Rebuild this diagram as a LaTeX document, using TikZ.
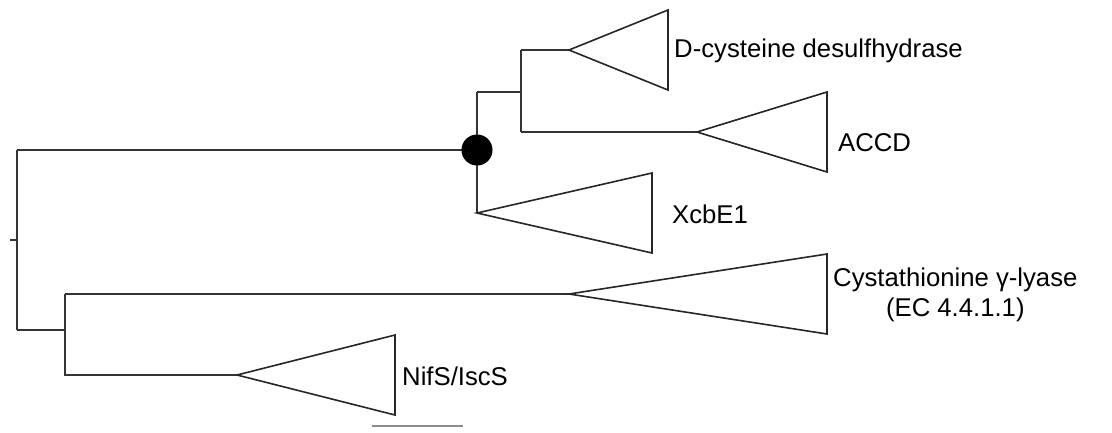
\documentclass[tikz,border=0pt]{standalone}
\usepackage{fontspec}
\setmainfont{Liberation Sans}
\begin{document}
\begin{tikzpicture}[x=1pt,y=-1pt,
  br/.style={draw=black!80,line width=1.6pt},
  clade/.style={draw=black!85,line width=1.6pt,line join=miter},
  lbl/.style={anchor=west,inner sep=0pt,font=\fontsize{25.7}{30}\selectfont}]
\useasboundingbox (0,0) rectangle (1112,432);
% internal nodes
\coordinate (root) at (17,240);
\coordinate (rtick) at (10,240);
\coordinate (nA) at (477,150);
\coordinate (nB) at (521,92);
\coordinate (nC) at (65,294);
% clade apexes
\coordinate (dcys) at (569,50);
\coordinate (accd) at (697,132);
\coordinate (xcb) at (477,213);
\coordinate (cys) at (569,294);
\coordinate (nif) at (237,375);
% tree lines
\draw[br] (rtick) -- (root);
\draw[br] (17,150) -- (17,330);
\draw[br] (17,150) -- (nA);
\draw[br] (17,330) -- (nC |- 0,330) -- (nC);
\draw[br] (nC) -- (cys);
\draw[br] (65,294) -- (65,375) -- (nif);
\draw[br] (477,92) -- (xcb);
\draw[br] (477,92) -- (nB);
\draw[br] (521,50) -- (521,132);
\draw[br] (521,50) -- (dcys);
\draw[br] (521,132) -- (accd);
% collapsed clades
\draw[clade] (dcys) -- (668,10) -- (668,90) -- cycle;
\draw[clade] (accd) -- (827,92) -- (827,172) -- cycle;
\draw[clade] (xcb) -- (652,173) -- (652,253) -- cycle;
\draw[clade] (cys) -- (827,254) -- (827,334) -- cycle;
\draw[clade] (nif) -- (395,335) -- (395,415) -- cycle;
% support marker
\fill[black] (nA) circle[radius=15.5];
% labels
\node[lbl] (ldcys) at (674,51) {D-cysteine desulfhydrase};
\node[lbl] (laccd) at (838,143) {ACCD};
\node[lbl] (lxcb) at (672,214) {XcbE1};
\node[lbl,align=center] (lcys) at (833,295) {Cystathionine γ-lyase\\(EC 4.4.1.1)};
\node[lbl] (lnif) at (402,376) {NifS/IscS};
% scale bar
\coordinate (sb1) at (372,426);
\coordinate (sb2) at (463,426);
\draw[draw=black!45,line width=1.5pt] (sb1) -- (sb2);
\end{tikzpicture}
\end{document}
